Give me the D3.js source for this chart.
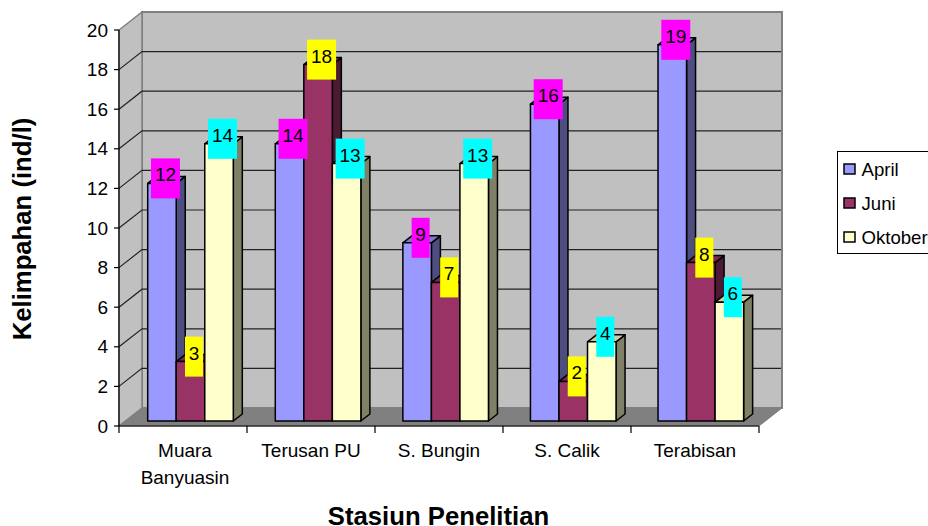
<!DOCTYPE html>
<html><head><meta charset="utf-8">
<style>html,body{margin:0;padding:0;background:#fff;overflow:hidden}svg{display:block}text{font-family:"Liberation Sans",Arial,sans-serif;fill:#000}</style>
<script src="https://cdn.jsdelivr.net/npm/d3@7/dist/d3.min.js"></script>
</head><body><script>
const categories = ["Muara Banyuasin","Terusan PU","S. Bungin","S. Calik","Terabisan"];
const categoryLines = [["Muara","Banyuasin"],["Terusan PU"],["S. Bungin"],["S. Calik"],["Terabisan"]];
const seriesNames = ["April","Juni","Oktober"];
const april = [12,14,9,16,19];
const juni = [3,18,7,2,8];
const oktober = [14,13,13,4,6];
const yTicks = [0,2,4,6,8,10,12,14,16,18,20];
const frontColors = ["#9999ff","#993366","#ffffcc"];
const sideColors = ["#4d4d80","#4d1a33","#808066"];
const topColors = ["#7a7acc","#7a2952","#cccca3"];
const labelColors = ["#ff00ff","#ffff00","#00ffff"];
const seriesValues = [april,juni,oktober];

const svg = d3.select("body").append("svg").attr("width",928).attr("height",526);
const y = d3.scaleLinear().domain([0,20]).range([426,30]);
const xAxis = d3.scaleBand().domain(categories).range([119,759]);
const xBars = d3.scaleBand().domain(categories).range([147.7,785.6]);
const xSeries = d3.scaleBand().domain(seriesNames).range([0,85.6]);
const wallDx = 23, wallDy = -18, baseDy = -5, barDx = 9, barDy = -7;
const fontSize = 19, legendSize = 18.6, titleSize = 25.7;
const pts = a => a.map(p=>p.join(",")).join(" ");

// walls and floor
const x0=119,x1=759,yB=y(0),yT=y(20);
const g = svg.append("g");
g.append("polygon").attr("points",pts([[x0+wallDx,yT+wallDy],[x1+wallDx,yT+wallDy],[x1+wallDx,yB+wallDy],[x0+wallDx,yB+wallDy]])).attr("fill","#c0c0c0").attr("stroke","#808080").attr("stroke-width",2);
g.append("polygon").attr("points",pts([[x0,yT],[x0+wallDx,yT+wallDy],[x0+wallDx,yB+wallDy],[x0,yB]])).attr("fill","#c0c0c0").attr("stroke","#808080").attr("stroke-width",1.5);
g.append("polygon").attr("points",pts([[x0,yB],[x0+wallDx,yB+wallDy],[x1+wallDx,yB+wallDy],[x1,yB]])).attr("fill","#808080").attr("stroke","#808080");

// gridlines
yTicks.filter(t=>t>0&&t<20).forEach(t=>{
  g.append("polyline").attr("points",pts([[x0,y(t)],[x0+wallDx,y(t)+wallDy],[x1+wallDx-1,y(t)+wallDy]]))
   .attr("fill","none").attr("stroke","#222").attr("stroke-width",1.2);
});

// axes
const ax = svg.append("g");
ax.append("line").attr("x1",x0).attr("x2",x0).attr("y1",yT).attr("y2",yB).attr("stroke","#000").attr("stroke-width",1.2);
ax.append("line").attr("x1",x0).attr("x2",x1).attr("y1",yB).attr("y2",yB).attr("stroke","#000").attr("stroke-width",1.2);
yTicks.forEach(t=>{
  ax.append("line").attr("x1",x0-5).attr("x2",x0).attr("y1",y(t)).attr("y2",y(t)).attr("stroke","#000").attr("stroke-width",1.2);
  ax.append("text").attr("x",108).attr("y",y(t)+6.5).attr("text-anchor","end").attr("font-size",fontSize).text(t);
});
const tickXs = categories.map(c=>xAxis(c)).concat([x1]);
tickXs.forEach(xp=>{
  ax.append("line").attr("x1",xp).attr("x2",xp).attr("y1",yB).attr("y2",yB+7).attr("stroke","#000").attr("stroke-width",1.2);
});
categories.forEach((c,i)=>{
  const nudge = categoryLines[i].length>1 ? 2 : 0;
  categoryLines[i].forEach((ln,j)=>{
    ax.append("text").attr("x",xAxis(c)+xAxis.bandwidth()/2+nudge).attr("y",457+j*27).attr("text-anchor","middle").attr("font-size",fontSize).text(ln);
  });
});
svg.append("text").attr("transform","translate(31,229) rotate(-90)").attr("text-anchor","middle").attr("font-size",titleSize).attr("font-weight","bold").text("Kelimpahan (ind/l)");
svg.append("text").attr("x",438.5).attr("y",525).attr("text-anchor","middle").attr("font-size",titleSize).attr("font-weight","bold").text("Stasiun Penelitian");

// bars: painted left to right
const barH = v => y(0)-y(v);
const bars = svg.append("g").attr("stroke","#000").attr("stroke-width",1.5).attr("stroke-linejoin","round");
categories.forEach((c,i)=>{
  seriesNames.forEach((s,k)=>{
    const v = seriesValues[k][i];
    const xl = xBars(c)+xSeries(s), w = xSeries.bandwidth(), xr = xl+w;
    const yb = y(0)+baseDy, yt = yb-barH(v);
    bars.append("polygon").attr("points",pts([[xr,yt],[xr+barDx,yt+barDy],[xr+barDx,yb+barDy],[xr,yb]])).attr("fill",sideColors[k]);
    bars.append("polygon").attr("points",pts([[xl,yt],[xl+barDx,yt+barDy],[xr+barDx,yt+barDy],[xr,yt]])).attr("fill",topColors[k]);
    bars.append("rect").attr("x",xl).attr("y",yt).attr("width",w).attr("height",yb-yt).attr("fill",frontColors[k]);
  });
});

// data labels
const labels = svg.append("g");
categories.forEach((c,i)=>{
  seriesNames.forEach((s,k)=>{
    const v = seriesValues[k][i];
    const cx = xBars(c)+xSeries(s)+xSeries.bandwidth()/2+3.5;
    const cy = y(0)+baseDy-barH(v)-5;
    const w = String(v).length>1?29:18;
    labels.append("rect").attr("x",cx-w/2).attr("y",cy-20).attr("width",w).attr("height",40).attr("fill",labelColors[k]);
    labels.append("text").attr("x",cx).attr("y",cy+3).attr("text-anchor","middle").attr("font-size",fontSize).text(v);
  });
});

// legend
const lg = svg.append("g");
lg.append("rect").attr("x",837.5).attr("y",151.5).attr("width",110).attr("height",102).attr("fill","#fff").attr("stroke","#000");
seriesNames.forEach((s,k)=>{
  const cy = 169+k*34;
  lg.append("rect").attr("x",844).attr("y",cy-5).attr("width",11).attr("height",10).attr("fill",frontColors[k]).attr("stroke","#000").attr("stroke-width",1.5);
  lg.append("text").attr("x",861.5).attr("y",cy+6.5).attr("font-size",legendSize).text(s);
});
</script></body></html>
